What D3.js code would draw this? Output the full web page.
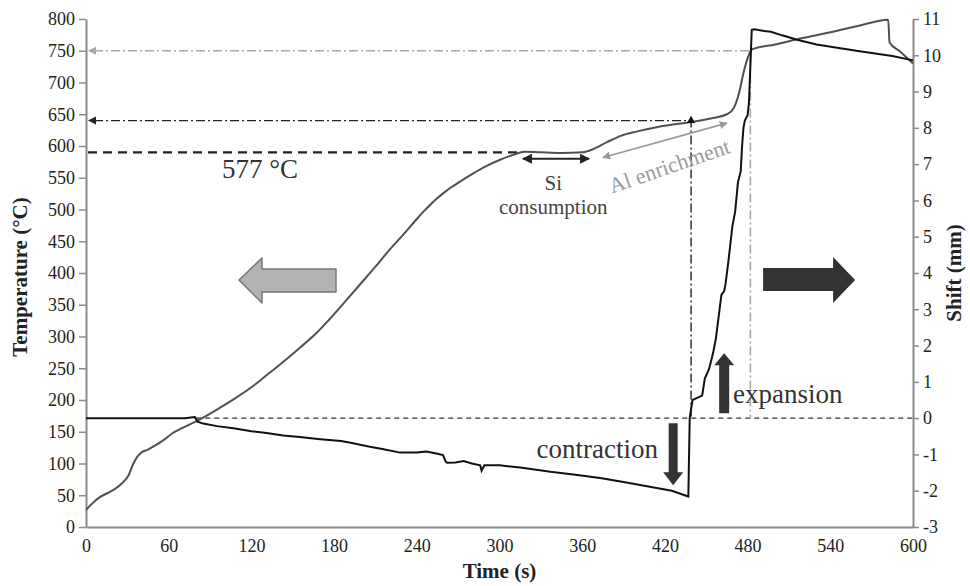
<!DOCTYPE html>
<html>
<head>
<meta charset="utf-8">
<script src="https://cdn.jsdelivr.net/npm/d3@7"></script>
<style>
  body { margin: 0; background: #fff; }
  text { font-family: "Liberation Serif", "Times New Roman", serif; }
</style>
</head>
<body>
<div class="main"></div>
<script>
// temperature curve (s, °C)
let tempTime = [0, 5, 10, 17, 23, 28, 31, 34, 37, 40, 45, 50, 57, 63, 70, 83, 95, 107, 120, 131, 143, 155, 167, 177, 190, 200, 210, 220, 230, 240, 245, 250, 255, 260, 265, 270, 275, 281, 290, 300, 310, 318, 330, 345, 360, 368, 378, 388, 400, 415, 430, 440, 455, 465, 470, 474, 477, 480, 483, 500, 520, 540, 560, 582, 583, 590, 600];
let tempValue = [27, 38, 47, 55, 63, 73, 82, 98, 110, 117, 122, 128, 138, 148, 156, 170, 185, 201, 220, 239, 260, 282, 305, 328, 360, 385, 410, 436, 460, 485, 497, 508, 518, 527, 535, 542, 549, 557, 568, 578, 586, 591, 590, 589, 590, 595, 606, 616, 623, 630, 635, 638, 644, 650, 660, 685, 715, 738, 752, 760, 770, 779, 789, 799, 763, 750, 730];

// shift curve (s, mm)
let shiftTime = [0, 72, 76, 79, 81, 85, 95, 107, 120, 131, 143, 155, 170, 185, 192, 205, 215, 228, 240, 247, 255, 259, 261, 262, 268, 274, 280, 286, 287, 289, 300, 315, 337, 355, 373, 390, 409, 425, 437, 438, 440, 443, 447, 449, 452, 455, 457, 459, 460, 461, 463, 464, 466, 469, 470, 471, 473, 475, 476, 477, 478, 480, 481, 483, 485, 492, 497, 505, 516, 530, 560, 585, 600];
let shiftValue = [0, 0, 0.02, 0.03, -0.1, -0.15, -0.22, -0.28, -0.36, -0.41, -0.48, -0.52, -0.58, -0.63, -0.68, -0.78, -0.85, -0.95, -0.95, -0.92, -0.98, -1.02, -1.2, -1.23, -1.22, -1.18, -1.25, -1.3, -1.45, -1.3, -1.3, -1.36, -1.48, -1.56, -1.65, -1.76, -1.89, -2.0, -2.16, 0, 0.5, 0.55, 0.62, 1.1, 1.35, 1.8, 2.2, 2.8, 3.1, 3.4, 3.5, 3.7, 4.3, 5.3, 5.5, 5.7, 6.5, 6.8, 7.5, 8.0, 8.2, 8.35, 8.7, 10.7, 10.72, 10.67, 10.65, 10.55, 10.43, 10.3, 10.12, 9.98, 9.86];

let timeTicks = [0, 60, 120, 180, 240, 300, 360, 420, 480, 540, 600];
let tempTicks = d3.range(0, 801, 50);
let shiftTicks = d3.range(-3, 12, 1);

// guide lines
let liquidusT = 750, liquidusTime = 482;
let peakT = 640, peakTime = 439;
let eutecticT = 590, eutecticEnd = 315;
let zeroStart = 80;

let chart = {
  width: 970,
  height: 586,
  left: 86,
  right: 57,
  top: 19,
  bottom: 59
};

let svg = d3.select('.main').append('svg')
  .attr('width', chart.width)
  .attr('height', chart.height);

let x = d3.scaleLinear().domain([0, 600]).range([chart.left, chart.width - chart.right]);
let yT = d3.scaleLinear().domain([0, 800]).range([chart.height - chart.bottom, chart.top]);
let yS = d3.scaleLinear().domain([-3, 11]).range([chart.height - chart.bottom, chart.top]);

// axes
let axisColor = '#8a8a8a';
let styleAxis = g => {
  g.select('.domain').attr('stroke', axisColor).attr('stroke-width', 2);
  g.selectAll('.tick line').attr('stroke', axisColor).attr('stroke-width', 1.5);
  g.selectAll('.tick text').attr('fill', '#222').style('font-size', '18px')
    .style('font-family', '"Liberation Serif", serif');
};
let plain = d => String(d);

svg.append('g')
  .attr('transform', `translate(0,${chart.height - chart.bottom})`)
  .call(d3.axisBottom(x).tickValues(timeTicks).tickFormat(plain).tickSize(0).tickPadding(12))
  .call(styleAxis);

svg.append('g')
  .attr('transform', `translate(${chart.left},0)`)
  .call(d3.axisLeft(yT).tickValues(tempTicks).tickFormat(plain).tickSize(7).tickSizeOuter(0).tickPadding(4))
  .call(styleAxis);

svg.append('g')
  .attr('transform', `translate(${chart.width - chart.right},0)`)
  .call(d3.axisRight(yS).tickValues(shiftTicks).tickFormat(plain).tickSize(6).tickSizeOuter(0).tickPadding(4))
  .call(styleAxis);

// axis titles
svg.append('text')
  .attr('transform', `translate(27,${(yT(0) + yT(800)) / 2 + 4}) rotate(-90)`)
  .attr('text-anchor', 'middle')
  .style('font-size', '21px').style('font-weight', 'bold').attr('fill', '#222')
  .text('Temperature (°C)');

svg.append('text')
  .attr('x', (x(0) + x(600)) / 2)
  .attr('y', 578)
  .attr('text-anchor', 'middle')
  .style('font-size', '21px').style('font-weight', 'bold').attr('fill', '#222')
  .text('Time (s)');

svg.append('text')
  .attr('transform', `translate(961,${(yT(0) + yT(800)) / 2}) rotate(-90)`)
  .attr('text-anchor', 'middle')
  .style('font-size', '21px').style('font-weight', 'bold').attr('fill', '#222')
  .text('Shift (mm)');

// reference lines
let dashDot = '9,3,2,3';

svg.append('line')
  .attr('x1', x(zeroStart)).attr('x2', x(600))
  .attr('y1', yS(0)).attr('y2', yS(0))
  .attr('stroke', '#333').attr('stroke-width', 1.3).attr('stroke-dasharray', '5,4');

svg.append('line')
  .attr('x1', x(0) + 2).attr('x2', x(eutecticEnd))
  .attr('y1', yT(eutecticT)).attr('y2', yT(eutecticT))
  .attr('stroke', '#222').attr('stroke-width', 2.2).attr('stroke-dasharray', '9,6');

let leftHead = (g, yy, color) => {
  g.append('path')
    .attr('d', `M${x(0) + 2},${yy} l8,-4 l0,8 z`)
    .attr('fill', color);
};

svg.append('path')
  .attr('d', `M${x(0) + 8},${yT(liquidusT)} H${x(liquidusTime)} V${yS(0)}`)
  .attr('fill', 'none').attr('stroke', '#a8a8a8').attr('stroke-width', 1.6)
  .attr('stroke-dasharray', dashDot);
leftHead(svg, yT(liquidusT), '#a8a8a8');

svg.append('path')
  .attr('d', `M${x(0) + 8},${yT(peakT)} H${x(peakTime)} V${yS(0)}`)
  .attr('fill', 'none').attr('stroke', '#222').attr('stroke-width', 1.4)
  .attr('stroke-dasharray', dashDot);
leftHead(svg, yT(peakT), '#222');

// data lines
let tempData = tempTime.map((t, i) => [t, tempValue[i]]);
let shiftData = shiftTime.map((t, i) => [t, shiftValue[i]]);

svg.append('path')
  .datum(tempData)
  .attr('fill', 'none')
  .attr('stroke', '#505050')
  .attr('stroke-width', 2)
  .attr('d', d3.line().x(d => x(d[0])).y(d => yT(d[1])).curve(d3.curveMonotoneX));

svg.append('path')
  .datum(shiftData)
  .attr('fill', 'none')
  .attr('stroke', '#111')
  .attr('stroke-width', 2)
  .attr('d', d3.line().x(d => x(d[0])).y(d => yS(d[1])));

// marker at the peak
svg.append('path')
  .attr('d', d3.symbol().type(d3.symbolTriangle).size(30))
  .attr('transform', `translate(${x(peakTime)},${yT(peakT)})`)
  .attr('fill', '#111');

// annotations
svg.append('text')
  .attr('x', 222).attr('y', yT(eutecticT) + 26)
  .style('font-size', '27px').attr('fill', '#333')
  .text('577 °C');

let defs = svg.append('defs');
let makeHead = (id, color) => {
  defs.append('marker')
    .attr('id', id).attr('viewBox', '0 0 10 10')
    .attr('refX', 9).attr('refY', 5)
    .attr('markerWidth', 5).attr('markerHeight', 5)
    .attr('orient', 'auto-start-reverse')
    .append('path').attr('d', 'M0,0 L10,5 L0,10 z').attr('fill', color);
};
makeHead('headBlack', '#222');
makeHead('headGray', '#999');

svg.append('line')
  .attr('x1', x(317)).attr('x2', x(365))
  .attr('y1', yT(580)).attr('y2', yT(580))
  .attr('stroke', '#222').attr('stroke-width', 2)
  .attr('marker-start', 'url(#headBlack)').attr('marker-end', 'url(#headBlack)');

svg.append('text')
  .attr('x', x(339)).attr('y', 190)
  .attr('text-anchor', 'middle')
  .style('font-size', '21px').attr('fill', '#444')
  .text('Si');
svg.append('text')
  .attr('x', x(339)).attr('y', 214)
  .attr('text-anchor', 'middle')
  .style('font-size', '21px').attr('fill', '#444')
  .text('consumption');

svg.append('line')
  .attr('x1', x(375)).attr('x2', x(465))
  .attr('y1', yT(582)).attr('y2', yT(636))
  .attr('stroke', '#999').attr('stroke-width', 1.6)
  .attr('marker-start', 'url(#headGray)').attr('marker-end', 'url(#headGray)');

svg.append('text')
  .attr('transform', `translate(${x(425)},${173}) rotate(-19)`)
  .attr('text-anchor', 'middle')
  .style('font-size', '22px').attr('fill', '#9a9a9a')
  .text('Al enrichment');

// big horizontal arrows
let arrowY = yT(389);
svg.append('path')
  .attr('d', `M${x(111)},${arrowY} l23,-22 l0,11 l74,0 l0,23 l-74,0 l0,11 z`)
  .attr('fill', '#b3b3b3').attr('stroke', '#777').attr('stroke-width', 1.5)
  .attr('stroke-linejoin', 'round');

svg.append('path')
  .attr('d', `M${x(558)},${arrowY} l-22,-23 l0,11 l-70,0 l0,23 l70,0 l0,12 z`)
  .attr('fill', '#333');

// vertical arrows
svg.append('path')
  .attr('d', `M${x(426)},${yS(-1.85)} l-10,-13 l5.5,0 l0,-49 l9,0 l0,49 l5.5,0 z`)
  .attr('fill', '#333');

svg.append('path')
  .attr('d', `M${x(463)},${yS(1.79)} l10,12 l-5,0 l0,48 l-10,0 l0,-48 l-5,0 z`)
  .attr('fill', '#333');

svg.append('text')
  .attr('x', 658).attr('y', 458)
  .attr('text-anchor', 'end')
  .style('font-size', '27px').attr('fill', '#333')
  .text('contraction');

svg.append('text')
  .attr('x', 733).attr('y', 403)
  .style('font-size', '27px').attr('fill', '#333')
  .text('expansion');
</script>
</body>
</html>
